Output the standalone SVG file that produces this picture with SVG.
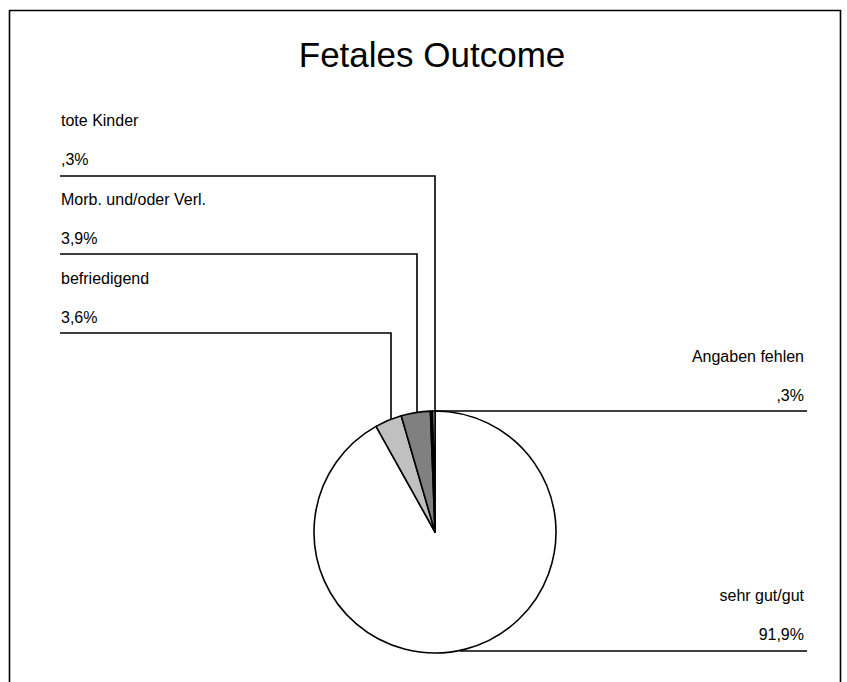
<svg xmlns="http://www.w3.org/2000/svg" width="847" height="682" viewBox="0 0 847 682">
<style>
text{font-family:"Liberation Sans",Arial,sans-serif;font-size:16px;fill:#000}
.t{font-size:35px}
.r{text-anchor:end}
.ln{fill:none;stroke:#000;stroke-width:1.6}
.sl{stroke:#000;stroke-width:1.6;stroke-linejoin:round}
</style>
<rect width="847" height="682" fill="#fff"/>
<path class="ln" d="M9.5,682 V10.5 H840.5 V682"/>
<text class="t" x="432" y="67" text-anchor="middle">Fetales Outcome</text>
<g id="connectors">
<path class="ln" d="M60,176 H435 V411"/>
<path class="ln" d="M60,254 H417 V413"/>
<path class="ln" d="M60,333 H391 V419"/>
<path class="ln" d="M435,411 H807"/>
<path class="ln" d="M460,651 H807"/>
</g>
<g id="pie">
<path id="slice-sehrgut" class="sl" fill="#fff" d="M435,532 L435,411 A121,121 0 1 1 376.04,426.34 Z"/>
<path id="slice-befriedigend" class="sl" fill="#c0c0c0" d="M435,532 L376.04,426.34 A121,121 0 0 1 401.24,415.8 Z"/>
<path id="slice-morb" class="sl" fill="#808080" d="M435,532 L401.24,415.8 A121,121 0 0 1 430.44,411.09 Z"/>
<path id="slice-tote" class="sl" fill="#000" d="M435,532 L430.44,411.09 A121,121 0 0 1 432.72,411.02 Z"/>
<path id="slice-angaben" class="sl" fill="#fff" d="M435,532 L432.72,411.02 A121,121 0 0 1 435,411 Z"/>
</g>
<g id="label-tote"><text x="61" y="126">tote Kinder</text><text x="61" y="165">,3%</text></g>
<g id="label-morb"><text x="61" y="205">Morb. und/oder Verl.</text><text x="61" y="244">3,9%</text></g>
<g id="label-befriedigend"><text x="61" y="284">befriedigend</text><text x="61" y="323">3,6%</text></g>
<g id="label-angaben"><text class="r" x="804" y="362">Angaben fehlen</text><text class="r" x="804" y="401">,3%</text></g>
<g id="label-sehrgut"><text class="r" x="804" y="601">sehr gut/gut</text><text class="r" x="804" y="640">91,9%</text></g>
</svg>
